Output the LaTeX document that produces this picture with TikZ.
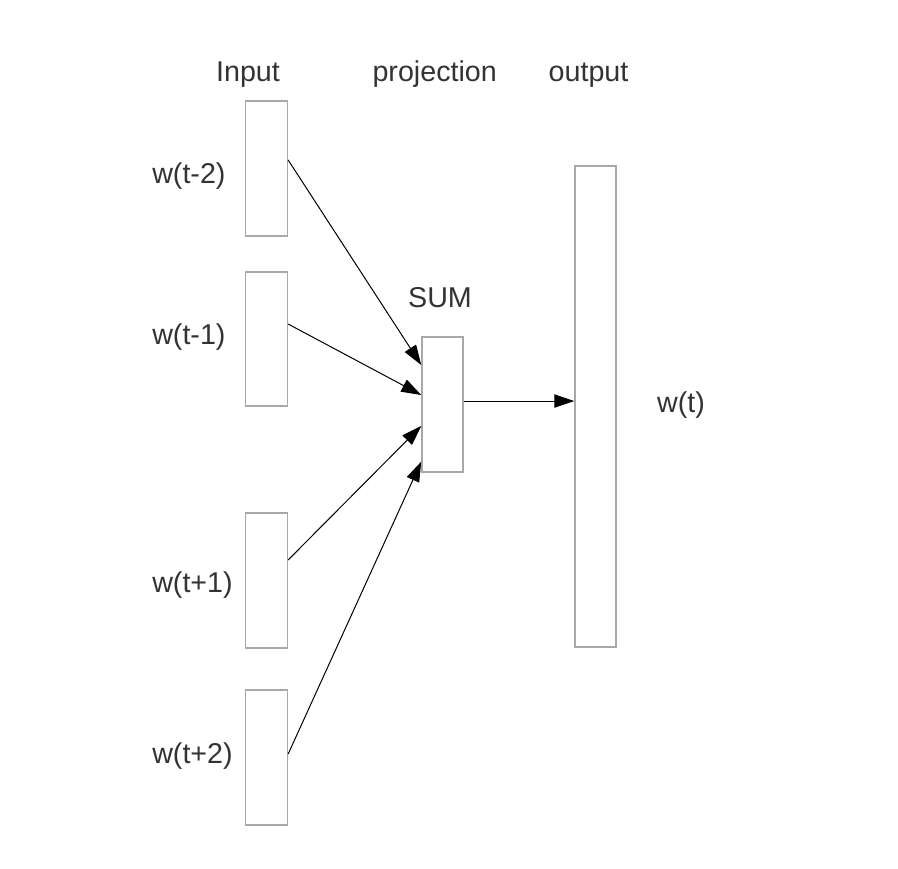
\documentclass[tikz,border=0pt]{standalone}
\usepackage{fontspec}
\setmainfont{Liberation Sans}
\usetikzlibrary{arrows.meta}
\definecolor{boxgray}{HTML}{A8A8A8}
\definecolor{txtgray}{HTML}{333333}
\begin{document}
\begin{tikzpicture}[x=0.75pt,y=-0.75pt,
  layerbox/.style={draw=boxgray,line width=1.1pt,fill=white,inner sep=0pt,minimum width=31.5pt},
  lbl/.style={text=txtgray,font=\fontsize{21.5}{24}\selectfont,inner sep=0pt,anchor=base},
  conn/.style={draw=black,line width=0.75pt,-{Triangle[length=15pt,width=10pt]}}]
\useasboundingbox (0,0) rectangle (898,868);
% boxes
\node[layerbox,minimum height=101.25pt] (b1) at (266.4,168.5) {};
\node[layerbox,minimum height=100.5pt] (b2) at (266.4,339) {};
\node[layerbox,minimum height=101.25pt] (b3) at (266.4,580.5) {};
\node[layerbox,minimum height=101.25pt] (b4) at (266.4,757.5) {};
\node[layerbox,minimum width=30.75pt,minimum height=101.25pt] (sum) at (442.5,404.5) {};
\node[layerbox,minimum width=30.75pt,minimum height=360.75pt] (out) at (595.5,406.5) {};
% labels
\node[lbl] (tin) at (248,81.7) {Input};
\node[lbl] (tproj) at (434.7,81.7) {projection};
\node[lbl] (tout) at (588.5,81.7) {output};
\node[lbl] (tsum) at (440,307.7) {SUM};
\node[lbl] (twt) at (681,412) {w(t)};
\node[lbl,anchor=base west] (l1) at (152,183) {w(t-2)};
\node[lbl,anchor=base west] (l2) at (152,344) {w(t-1)};
\node[lbl,anchor=base west] (l3) at (152,592) {w(t+1)};
\node[lbl,anchor=base west] (l4) at (152,763) {w(t+2)};
% connectors
\draw[conn] ([yshift=6.4pt]b1.east) -- ([yshift=29.6pt]sum.west);
\draw[conn] ([yshift=11.25pt]b2.east) -- ([yshift=7.1pt]sum.west);
\draw[conn] ([yshift=15.4pt]b3.east) -- ([yshift=-16.1pt]sum.west);
\draw[conn] ([yshift=2.6pt]b4.east) -- ([yshift=-42.8pt]sum.west);
\draw[conn] ([yshift=2.6pt]sum.east) -- ([yshift=2.6pt]sum.east -| out.west);
\end{tikzpicture}
\end{document}
